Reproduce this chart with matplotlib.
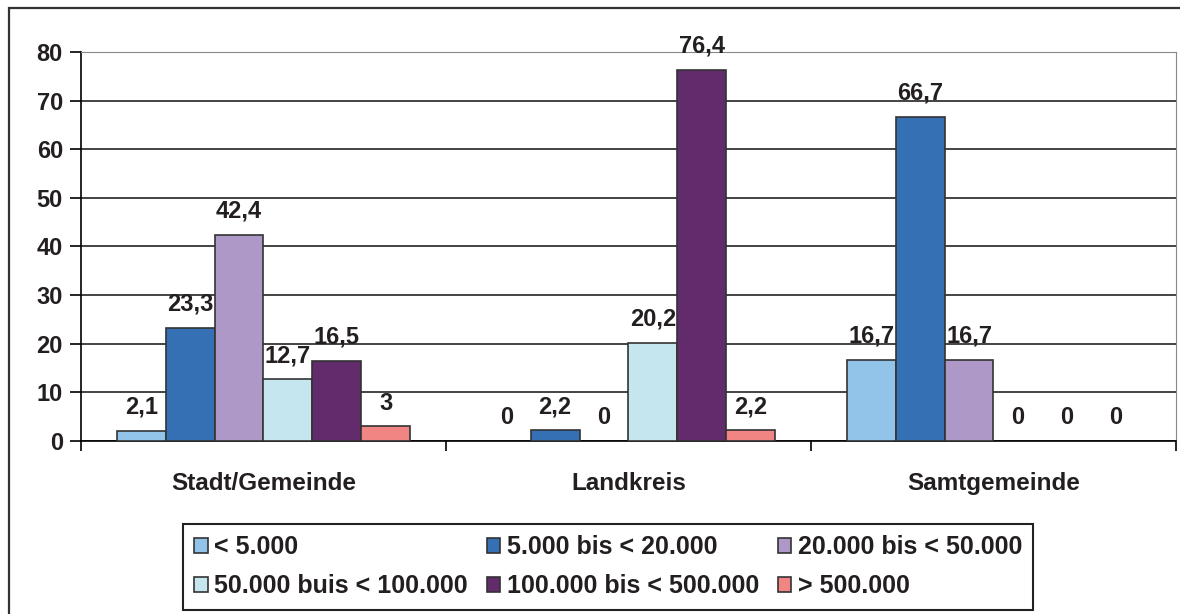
import matplotlib.pyplot as plt
import matplotlib.patches as mpatches
import numpy as np

plt.rcParams['font.family'] = ['Liberation Sans', 'DejaVu Sans']

# data
categories = ['Stadt/Gemeinde', 'Landkreis', 'Samtgemeinde']
series_labels = ['< 5.000', '5.000 bis < 20.000', '20.000 bis < 50.000',
                 '50.000 buis < 100.000', '100.000 bis < 500.000', '> 500.000']
lt_5k = [2.1, 0, 16.7]
k5_20k = [23.3, 2.2, 66.7]
k20_50k = [42.4, 0, 16.7]
k50_100k = [12.7, 20.2, 0]
k100_500k = [16.5, 76.4, 0]
gt_500k = [3, 2.2, 0]
series = [lt_5k, k5_20k, k20_50k, k50_100k, k100_500k, gt_500k]
colors = ['#92c4ea', '#3670b4', '#ae98c8', '#c6e6ef', '#612b6c', '#f18584']

txt = '#231f20'

fig = plt.figure(figsize=(11.8, 6.14), dpi=100)
ax = fig.add_axes([0.0686, 0.2818, 0.928, 0.6335])

# outer frame of the chart area
fig.patches.append(mpatches.Rectangle((9/1180, -0.05), 1.1, 1 - 8/614 + 0.05,
                                      transform=fig.transFigure, fill=False,
                                      edgecolor='#333333', linewidth=1.6))

x = np.arange(len(categories))
w = 0.134
offsets = (np.arange(6) - 2.5) * w

handles = []
for i, (vals, col) in enumerate(zip(series, colors)):
    lws = [1.2 if v > 0 else 0 for v in vals]
    ax.bar(x + offsets[i], vals, w, color=col, edgecolor='#333333',
           linewidth=lws, zorder=3)
    handles.append(mpatches.Patch(facecolor=col, edgecolor='#333333', linewidth=1.2))
    for xi, v in zip(x + offsets[i], vals):
        lab = f'{v:g}'.replace('.', ',')
        ax.text(xi, v + 4.8, lab, ha='center', va='center', fontsize=17,
                fontweight='bold', color=txt, zorder=4)

ax.set_xlim(-0.5, 2.5)
ax.set_ylim(0, 80)
ax.set_yticks(range(0, 81, 10))
ax.yaxis.grid(True, color='#111111', linewidth=1.1, zorder=0)
ax.set_axisbelow(True)

ax.set_xticks(x)
ax.set_xticklabels(categories)
ax.set_xticks([-0.5, 0.5, 1.5, 2.5], minor=True)
ax.tick_params(axis='x', which='major', length=0, pad=22, labelsize=17.5, labelcolor=txt)
ax.tick_params(axis='x', which='minor', length=7, width=1.2, direction='out')
ax.tick_params(axis='y', length=8, width=1.2, labelsize=17, labelcolor=txt, pad=5)
for lab in ax.get_xticklabels() + ax.get_yticklabels():
    lab.set_fontweight('bold')

ax.spines['top'].set_color('#888888')
ax.spines['right'].set_color('#888888')
ax.spines['left'].set_linewidth(1.2)
ax.spines['bottom'].set_linewidth(1.2)

# legend filled row by row
order = [0, 3, 1, 4, 2, 5]
leg = fig.legend([handles[i] for i in order], [series_labels[i] for i in order],
                 ncol=3, loc='upper left', bbox_to_anchor=(0.155, 0.147),
                 frameon=True, fancybox=False, framealpha=1, edgecolor='#222222',
                 prop={'size': 18, 'weight': 'bold'}, handlelength=0.55,
                 handleheight=0.55, handletextpad=0.25, columnspacing=0.75,
                 labelspacing=0.62, borderpad=0.45, borderaxespad=0)
leg.get_frame().set_linewidth(1.5)
for t in leg.get_texts():
    t.set_color(txt)

fig.savefig('out.png', dpi=100)
